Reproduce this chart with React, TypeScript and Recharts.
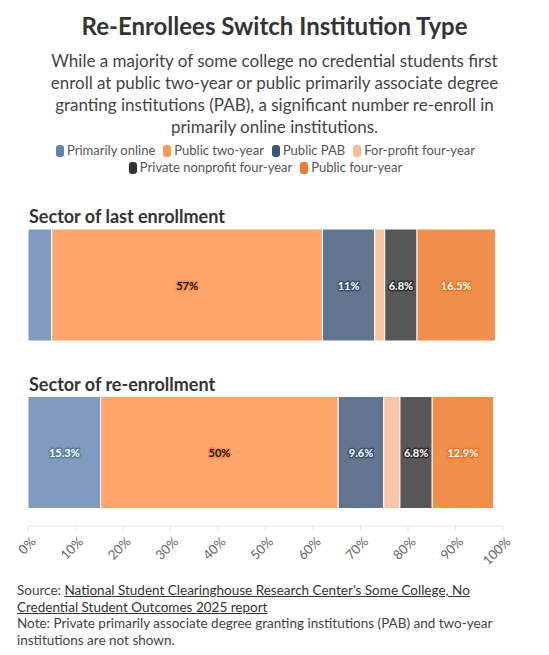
import React from "react";
import { BarChart, Bar, XAxis, YAxis, Legend, LabelList } from "recharts";

const periods = ["Sector of last enrollment", "Sector of re-enrollment"];
const primarilyOnline = [5.0, 15.3];
const publicTwoYear = [57, 50];
const publicPab = [11, 9.6];
const forProfitFourYear = [2.1, 3.4];
const privateNonprofitFourYear = [6.8, 6.8];
const publicFourYear = [16.5, 12.9];
const xTicks = [0, 10, 20, 30, 40, 50, 60, 70, 80, 90, 100];

const FONT = "Lato, 'Noto Sans', sans-serif";
const MARGIN = { top: 21, right: 46, bottom: 0, left: 28 };

const series = [
  { key: "online", name: "Primarily online", values: primarilyOnline, fill: "#7f9bbd", swatch: "#6282ad", text: "#fff", halo: "#5a7aa6" },
  { key: "twoYear", name: "Public two-year", values: publicTwoYear, fill: "#fea56b", swatch: "#fd9857", text: "#111", halo: "#f5904f" },
  { key: "pab", name: "Public PAB", values: publicPab, fill: "#627590", swatch: "#3e5779", text: "#fff", halo: "#3b5276" },
  { key: "forProfit", name: "For-profit four-year", values: forProfitFourYear, fill: "#f9c5a4", swatch: "#f9be99", text: "#111", halo: "#f0b088" },
  { key: "privateNp", name: "Private nonprofit four-year", values: privateNonprofitFourYear, fill: "#575757", swatch: "#333333", text: "#fff", halo: "#2e2e2e" },
  { key: "publicFour", name: "Public four-year", values: publicFourYear, fill: "#f18f4a", swatch: "#f07b2c", text: "#fff", halo: "#ee7626" },
];

const data = periods.map((period, i) => {
  const row: Record<string, string | number> = { period };
  series.forEach((s) => {
    row[s.key] = s.values[i];
  });
  return row;
});

function LegendContent() {
  return (
    <div
      style={{
        display: "flex",
        flexWrap: "wrap",
        justifyContent: "center",
        width: 440,
        margin: "0 auto",
        height: 40,
        alignContent: "flex-start",
        fontFamily: FONT,
        fontSize: 13,
        color: "#555",
        lineHeight: "17px",
      }}
    >
      {series.map((s) => (
        <span key={s.key} style={{ display: "inline-flex", alignItems: "center", margin: "0 4px" }}>
          <span
            style={{
              display: "inline-block",
              width: 8,
              height: 12,
              borderRadius: 3,
              background: s.swatch,
              marginRight: 3,
            }}
          />
          {s.name}
        </span>
      ))}
    </div>
  );
}

function makeLabel(color: string, halo: string) {
  return (props: any) => {
    const { x, y, width, height, value } = props;
    if (value < 6) return null;
    return (
      <text
        x={x + width / 2}
        y={y + height / 2}
        textAnchor="middle"
        dominantBaseline="central"
        fontFamily={FONT}
        fontSize={11}
        fontWeight={700}
        fill={color}
        stroke={halo}
        strokeWidth={3}
        strokeLinejoin="round"
        paintOrder="stroke"
      >
        {`${value}%`}
      </text>
    );
  };
}

// section heading above each stacked bar, anchored to the bar's top-left corner
function HeadingLabel(props: any) {
  const { x, y, value } = props;
  return (
    <text x={x + 1} y={y - 6} fontFamily={FONT} fontSize={18} fontWeight={700} fill="#333">
      {value}
    </text>
  );
}

function PercentTick(props: any) {
  const { x, y, payload } = props;
  return (
    <text
      x={x + 5}
      y={y + 6}
      transform={`rotate(-45, ${x + 5}, ${y + 6})`}
      textAnchor="end"
      dominantBaseline="central"
      fontFamily={FONT}
      fontSize={13}
      fill="#666"
    >
      {`${payload.value}%`}
    </text>
  );
}

export default function App() {
  return (
    <div style={{ position: "relative", width: 549, height: 655, background: "#fff", fontFamily: FONT }}>
      <style>{`body{margin:0}`}</style>
      <div
        style={{
          position: "absolute",
          top: 11,
          left: 0,
          width: 549,
          textAlign: "center",
          fontSize: 24,
          fontWeight: 700,
          lineHeight: "30px",
          color: "#333",
        }}
      >
        Re-Enrollees Switch Institution Type
      </div>
      <div
        style={{
          position: "absolute",
          top: 50,
          left: 10,
          width: 529,
          textAlign: "center",
          fontSize: 17,
          lineHeight: "22px",
          color: "#444",
        }}
      >
        While a majority of some college no credential students first
        <br />
        enroll at public two-year or public primarily associate degree
        <br />
        granting institutions (PAB), a significant number re-enroll in
        <br />
        primarily online institutions.
      </div>
      <div style={{ position: "absolute", top: 140, left: 0 }}>
        <BarChart width={549} height={436} data={data} layout="vertical" margin={MARGIN} barSize={112}>
          <Legend verticalAlign="top" content={<LegendContent />} wrapperStyle={{ top: 2 }} />
          <XAxis
            type="number"
            domain={[0, 100]}
            ticks={xTicks}
            interval={0}
            stroke="#e3e3e3"
            tickSize={5}
            height={50}
            tick={<PercentTick />}
          />
          <YAxis
            type="category"
            dataKey="period"
            hide
            padding={{ top: 0, bottom: -10 }}
          />
          {series.map((s, i) => (
            <Bar
              key={s.key}
              dataKey={s.key}
              name={s.name}
              stackId="a"
              fill={s.fill}
              stroke="#fff"
              strokeWidth={1}
              isAnimationActive={false}
            >
              <LabelList dataKey={s.key} content={makeLabel(s.text, s.halo)} />
              {i === 0 ? <LabelList dataKey="period" content={<HeadingLabel />} /> : null}
            </Bar>
          ))}
        </BarChart>
      </div>
      <div
        style={{
          position: "absolute",
          top: 582,
          left: 17,
          width: 520,
          fontSize: 13.5,
          lineHeight: "16.7px",
          color: "#444",
        }}
      >
        Source:{" "}
        <span style={{ textDecoration: "underline", color: "#333" }}>
          National Student Clearinghouse Research Center's Some College, No
          <br />
          Credential Student Outcomes 2025 report
        </span>
        <br />
        Note: Private primarily associate degree granting institutions (PAB) and two-year
        <br />
        institutions are not shown.
      </div>
    </div>
  );
}
